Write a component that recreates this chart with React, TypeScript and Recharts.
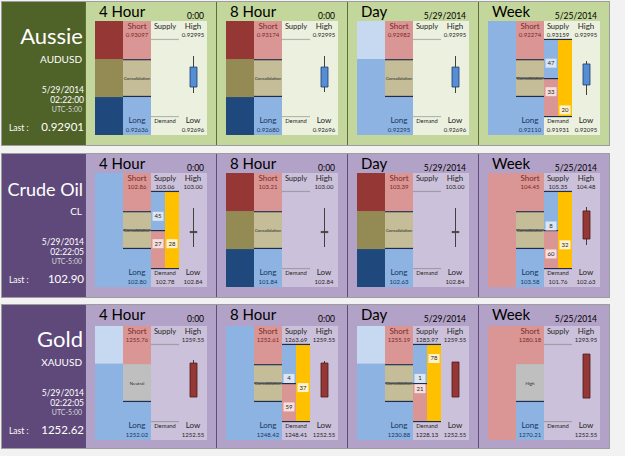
import React from 'react';
import { ComposedChart, Bar, XAxis, YAxis, Cell } from 'recharts';

// ---- data ----
const assets = ['Aussie', 'Crude Oil', 'Gold'];
const symbols = ['AUDUSD', 'CL', 'XAUUSD'];
const quoteDates = ['5/29/2014', '5/29/2014', '5/29/2014'];
const quoteTimes = ['02:22:00', '02:22:05', '02:22:05'];
const utcLabel = 'UTC-5:00';
const lastPrices = ['0.92901', '102.90', '1252.62'];

const frames = ['4 Hour', '8 Hour', 'Day', 'Week'];
const frameStamps = ['0:00', '0:00', '5/29/2014', '5/25/2014'];
const columnKeys = ['trend', 'zone', 'flow', 'range'];

// [short, supply, high, long, demand, low] per timeframe
const aussieQuotes = [
  ['0.93097', '', '0.92995', '0.92636', '', '0.92696'],
  ['0.93174', '', '0.92995', '0.92680', '', '0.92696'],
  ['0.92982', '', '0.92995', '0.92295', '', '0.92696'],
  ['0.92274', '0.93159', '0.92995', '0.92110', '0.91931', '0.92095'],
];
const crudeQuotes = [
  ['102.86', '103.06', '103.00', '102.80', '102.78', '102.84'],
  ['103.21', '', '103.00', '101.84', '', '102.84'],
  ['103.39', '', '103.00', '102.63', '', '102.84'],
  ['104.45', '105.35', '104.48', '103.58', '101.76', '102.63'],
];
const goldQuotes = [
  ['1255.76', '', '1259.55', '1252.02', '', '1252.55'],
  ['1252.61', '1263.69', '1259.55', '1248.42', '1248.41', '1252.55'],
  ['1255.19', '1283.97', '1259.55', '1230.88', '1228.13', '1252.55'],
  ['1280.18', '', '1293.95', '1270.21', '', '1252.55'],
];

type Seg = [string, number];

// trend column, bottom -> top, on a 0-100 column scale
const aussieTrend: Seg[][] = [
  [['longDark', 33.3], ['consDark', 33.3], ['shortDark', 33.4]],
  [['longDark', 33.3], ['consDark', 33.3], ['shortDark', 33.4]],
  [['long', 66.7], ['longPale', 33.3]],
  [['long', 100]],
];
const crudeTrend: Seg[][] = [
  [['long', 100]],
  [['longDark', 33.3], ['consDark', 33.3], ['shortDark', 33.4]],
  [['longDark', 33.3], ['consDark', 33.3], ['shortDark', 33.4]],
  [['short', 100]],
];
const goldTrend: Seg[][] = [
  [['long', 67], ['longPale', 33]],
  [['long', 100]],
  [['long', 67], ['longPale', 33]],
  [['short', 100]],
];

// zone column: [long band, middle band]; the short band fills the rest
const aussieBands = [[33.3, 33.3], [33.3, 33.3], [33.3, 33.3], [33.3, 33.3]];
const crudeBands = [[33.3, 33.3], [33.3, 33.3], [33.3, 33.3], [33.3, 33.3]];
const goldBands = [[33.3, 33.3], [33.3, 33.3], [33.3, 33.3], [33.3, 33.3]];
const aussieMiddle = ['Consolidation', 'Consolidation', 'Consolidation', 'Consolidation'];
const crudeMiddle = ['Consolidation', 'Consolidation', 'Consolidation', 'Consolidation'];
const goldMiddle = ['Neutral', 'Consolidation', 'Consolidation', 'High'];

// supply/demand split: [buyers, sellers, pressure] and the level of each badge
const aussieFlow = [null, null, null, [47, 33, 20]];
const aussieFlowAt = [null, null, null, [63, 38, 22]];
const crudeFlow = [[45, 27, 28], null, null, [8, 60, 32]];
const crudeFlowAt = [[62, 38, 38], null, null, [53.5, 29, 37]];
const goldFlow = [null, [4, 59, 37], [1, 21, 78], null];
const goldFlowAt = [null, [54, 29, 46], [54, 45, 71.5], null];
const flowDivide = 50;
const supplyHead = 16.7;
const demandFoot = 16.7;

// candles: [low, open, close, high] on the same column scale
const aussieCandles = [
  [36.8, 42.1, 59.6, 69.3],
  [37.7, 42.1, 59.6, 69.3],
  [36.8, 42.1, 59.6, 69.3],
  [35.1, 43.9, 62.3, 64.9],
];
const crudeCandles = [
  [35.1, 48.2, 48.2, 69.3],
  [35.1, 48.2, 48.2, 69.3],
  [35.1, 48.2, 48.2, 69.3],
  [36.8, 66.7, 42.1, 70.2],
];
const goldCandles = [
  [37.7, 67.5, 37.7, 70.2],
  [37.7, 67.5, 37.7, 69.3],
  [37.7, 68.4, 37.7, 68.4],
  [36.8, 75.4, 36.8, 75.4],
];

const quotes = [aussieQuotes, crudeQuotes, goldQuotes];
const trends = [aussieTrend, crudeTrend, goldTrend];
const bands = [aussieBands, crudeBands, goldBands];
const middles = [aussieMiddle, crudeMiddle, goldMiddle];
const flows = [aussieFlow, crudeFlow, goldFlow];
const flowLevels = [aussieFlowAt, crudeFlowAt, goldFlowAt];
const candles = [aussieCandles, crudeCandles, goldCandles];

// ---- styling ----
const themes = [
  { side: '#4f6228', panel: '#c3d69b', cell: '#ebf1de', rule: '#5d6f35' },
  { side: '#5f497a', panel: '#b3a2c7', cell: '#ccc1da', rule: '#5f4c78' },
  { side: '#5f497a', panel: '#b3a2c7', cell: '#ccc1da', rule: '#5f4c78' },
];
const kindFills: Record<string, string> = {
  shortDark: '#953735',
  consDark: '#948a54',
  longDark: '#1f497d',
  short: '#da9694',
  shortCut: '#da9694',
  cons: '#c4bd97',
  consCut: '#c4bd97',
  long: '#8db3e2',
  longPale: '#c6d9f1',
  neutral: '#bfbfbf',
  flow: '#ffc000',
};
const edgeDark = '#1f2d4e';
const edgeLight = 'rgba(110,110,110,0.45)';
const kindEdges: Record<string, { top?: string; bottom?: string; mid?: string }> = {
  cons: { top: edgeDark, bottom: edgeDark },
  consCut: { top: edgeDark, bottom: edgeDark, mid: edgeDark },
  neutral: { bottom: edgeDark },
  head: { bottom: edgeLight },
  headCut: { bottom: edgeDark },
  foot: { top: edgeLight },
  footCut: { top: edgeDark },
  shortCut: { top: edgeDark },
};
const toneFill: Record<string, string> = { up: '#558ed5', down: '#953735', flat: '#404040' };
const toneStroke: Record<string, string> = { up: '#1f3864', down: '#4a1b1a', flat: '#404040' };

const rowTops = [2, 154, 305];
const colTops = [19, 19, 21];
const rowH = 143;
const colH = 114;
const sideW = 83;
const panelW = 131;
const plotX = 10;
const plotW = 112;
const colW = plotW / 4;
const font = 'Lato, "Open Sans", sans-serif';

function buildPanel(a: number, f: number) {
  const [lo, mid] = bands[a][f];
  const flow = flows[a][f];
  const midKind = middles[a][f] === 'Consolidation' ? (flow ? 'consCut' : 'cons') : 'neutral';
  const zone: Seg[] = [['long', lo], [midKind, mid], ['short', 100 - lo - mid]];
  const head = 100 - supplyHead;
  const supplyL: Seg[] = flow
    ? [['footCut', demandFoot], ['shortCut', flowDivide - demandFoot], ['long', head - flowDivide], ['headCut', supplyHead]]
    : [['foot', demandFoot], ['cell', head - demandFoot], ['head', supplyHead]];
  const supplyR: Seg[] = flow
    ? [['footCut', demandFoot], ['flow', head - demandFoot], ['headCut', supplyHead]]
    : supplyL;
  const range: Seg[] = [['cell', 100]];
  const trend = trends[a][f];
  const stacks: [Seg[], Seg[]][] = [[trend, trend], [zone, zone], [supplyL, supplyR], [range, range]];
  const [low, open, close, high] = candles[a][f];
  return stacks.map(([L, R], i) => {
    const row: any = { col: columnKeys[i] };
    L.forEach(([k, v], j) => { row['L' + j] = v; row['L' + j + 'k'] = k; });
    R.forEach(([k, v], j) => { row['R' + j] = v; row['R' + j + 'k'] = k; });
    if (i === 3) {
      const bLow = Math.min(open, close);
      const bHigh = Math.max(open, close);
      const doji = bHigh - bLow < 1;
      row.wickBase = low;
      row.wick = high - low;
      row.bodyBase = doji ? bLow - 0.5 : bLow;
      row.body = doji ? 1 : bHigh - bLow;
      row.tone = doji ? 'flat' : close > open ? 'up' : 'down';
    }
    return row;
  });
}

const segmentShape = (key: string, cell: string) => (p: any) => {
  const kind = p.payload?.[key + 'k'];
  if (!kind || !(p.height > 0)) return <g />;
  const { x, y, width, height } = p;
  const fill = kindFills[kind] ?? cell;
  const e = kindEdges[kind] || {};
  return (
    <g>
      <rect x={x} y={y} width={width} height={height} fill={fill} />
      {e.top && <line x1={x} x2={x + width} y1={y + 0.6} y2={y + 0.6} stroke={e.top} strokeWidth={1.2} />}
      {e.bottom && <line x1={x} x2={x + width} y1={y + height - 0.6} y2={y + height - 0.6} stroke={e.bottom} strokeWidth={1.2} />}
      {e.mid && <line x1={x} x2={x + width} y1={y + height / 2} y2={y + height / 2} stroke={e.mid} strokeWidth={1} />}
    </g>
  );
};

const segKeys = [0, 1, 2, 3, 4];

function Blocks({ a, f }: { a: number; f: number }) {
  const data = buildPanel(a, f);
  const cell = themes[a].cell;
  return (
    <ComposedChart width={plotW} height={colH} data={data} margin={{ top: 0, right: 0, bottom: 0, left: 0 }} barCategoryGap={0} barGap={0}>
      <XAxis dataKey="col" hide />
      <XAxis xAxisId="wk" dataKey="col" hide />
      <XAxis xAxisId="bd" dataKey="col" hide />
      <YAxis type="number" domain={[0, 100]} hide allowDataOverflow />
      {segKeys.map((j) => (
        <Bar key={'L' + j} dataKey={'L' + j} stackId="L" isAnimationActive={false} shape={segmentShape('L' + j, cell)} />
      ))}
      {segKeys.map((j) => (
        <Bar key={'R' + j} dataKey={'R' + j} stackId="R" isAnimationActive={false} shape={segmentShape('R' + j, cell)} />
      ))}
      <Bar xAxisId="wk" dataKey="wickBase" stackId="w" barSize={1} fill="transparent" isAnimationActive={false} />
      <Bar xAxisId="wk" dataKey="wick" stackId="w" barSize={1} fill="#404040" isAnimationActive={false} />
      <Bar xAxisId="bd" dataKey="bodyBase" stackId="b" barSize={7} fill="transparent" isAnimationActive={false} />
      <Bar xAxisId="bd" dataKey="body" stackId="b" barSize={7} isAnimationActive={false}>
        {data.map((d: any, i: number) => (
          <Cell key={i} fill={toneFill[d.tone] || 'transparent'} stroke={toneStroke[d.tone] || 'none'} strokeWidth={0.8} />
        ))}
      </Bar>
    </ComposedChart>
  );
}

function Panel({ a, f }: { a: number; f: number }) {
  const t = colTops[a];
  const q = quotes[a][f];
  const cx = (c: number) => plotX + colW * c + colW / 2;
  const levelY = (v: number) => t + ((100 - v) / 100) * colH;
  const [lo, mid] = bands[a][f];
  const flow = flows[a][f];
  const at = flowLevels[a][f];
  const shortInk = '#7a2826';
  const longInk = '#17375e';
  const ink = '#262626';
  const badgeFills = ['#dce6f2', '#f5e0df', '#fff2cc'];
  return (
    <div style={{ position: 'absolute', left: sideW + f * panelW, top: 0, width: panelW, height: rowH, borderLeft: `1px solid ${themes[a].rule}`, boxSizing: 'border-box' }}>
      <div style={{ position: 'absolute', left: plotX - 1, top: t }}>
        <Blocks a={a} f={f} />
      </div>
      <svg width={panelW} height={rowH} style={{ position: 'absolute', left: -1, top: 0, fontFamily: font }}>
        <text x={14} y={15} fontSize={15} fill="#000">{frames[f]}</text>
        <text x={plotX + plotW - 3} y={17} fontSize={8.5} fill="#000" textAnchor="end">{frameStamps[f]}</text>

        <text x={cx(1)} y={t + 8} fontSize={8} fill={shortInk} textAnchor="middle">Short</text>
        <text x={cx(1)} y={t + 15.5} fontSize={6} fill={shortInk} textAnchor="middle">{q[0]}</text>
        <text x={cx(2)} y={t + 8} fontSize={7.5} fill={ink} textAnchor="middle">Supply</text>
        <text x={cx(2)} y={t + 15.5} fontSize={6} fill={ink} textAnchor="middle">{q[1]}</text>
        <text x={cx(3)} y={t + 8} fontSize={8} fill={ink} textAnchor="middle">High</text>
        <text x={cx(3)} y={t + 15.5} fontSize={6} fill={ink} textAnchor="middle">{q[2]}</text>

        <text x={cx(1)} y={t + 102} fontSize={8} fill={longInk} textAnchor="middle">Long</text>
        <text x={cx(1)} y={t + 111} fontSize={6} fill={longInk} textAnchor="middle">{q[3]}</text>
        <text x={cx(2)} y={t + 102} fontSize={5.8} fill={ink} textAnchor="middle">Demand</text>
        <text x={cx(2)} y={t + 111} fontSize={6} fill={ink} textAnchor="middle">{q[4]}</text>
        <text x={cx(3)} y={t + 102} fontSize={8} fill={ink} textAnchor="middle">Low</text>
        <text x={cx(3)} y={t + 111} fontSize={6} fill={ink} textAnchor="middle">{q[5]}</text>

        <text x={cx(1)} y={levelY(lo + mid / 2) + 1.5} fontSize={4.4} fill={ink} textAnchor="middle">{middles[a][f]}</text>

        {flow && at && flow.map((n, k) => {
          const x = plotX + colW * 2 + (k === 2 ? colW / 2 : 0) + colW / 4;
          const y = levelY(at[k]);
          return (
            <g key={k}>
              <rect x={x - 5.5} y={y - 4.5} width={11} height={9} fill={badgeFills[k]} />
              <text x={x} y={y + 2} fontSize={6} fill={ink} textAnchor="middle">{n}</text>
            </g>
          );
        })}
      </svg>
    </div>
  );
}

function Side({ a }: { a: number }) {
  const th = themes[a];
  const nameSize = a === 1 ? 18 : 22;
  return (
    <svg width={sideW} height={rowH} style={{ position: 'absolute', left: 0, top: 0, fontFamily: font }}>
      <rect x={0} y={0} width={sideW} height={rowH} fill={th.side} />
      <text x={81} y={42} fontSize={nameSize} fill="#fff" textAnchor="end">{assets[a]}</text>
      <text x={80} y={61} fontSize={10} fill="#fff" textAnchor="end">{symbols[a]}</text>
      <text x={82} y={91} fontSize={8.5} fill="#fff" textAnchor="end">{quoteDates[a]}</text>
      <text x={82} y={100.5} fontSize={8.5} fill="#fff" textAnchor="end">{quoteTimes[a]}</text>
      <text x={80} y={109.5} fontSize={7} fill="#d9d9d9" textAnchor="end">{utcLabel}</text>
      <text x={7} y={129} fontSize={8.5} fill="#fff">Last :</text>
      <text x={82} y={129} fontSize={11.5} fill="#fff" textAnchor="end">{lastPrices[a]}</text>
    </svg>
  );
}

export default function App() {
  return (
    <div style={{ position: 'absolute', left: 0, top: 0, width: 625, height: 456, background: '#f2f2f2', overflow: 'hidden', fontFamily: font }}>
      {assets.map((name, a) => (
        <div key={name} style={{ position: 'absolute', left: 2, top: rowTops[a], width: sideW + 4 * panelW, height: rowH, background: themes[a].panel, outline: '1px solid rgba(0,0,0,0.35)' }}>
          <Side a={a} />
          {frames.map((fr, f) => (
            <Panel key={fr} a={a} f={f} />
          ))}
        </div>
      ))}
    </div>
  );
}
